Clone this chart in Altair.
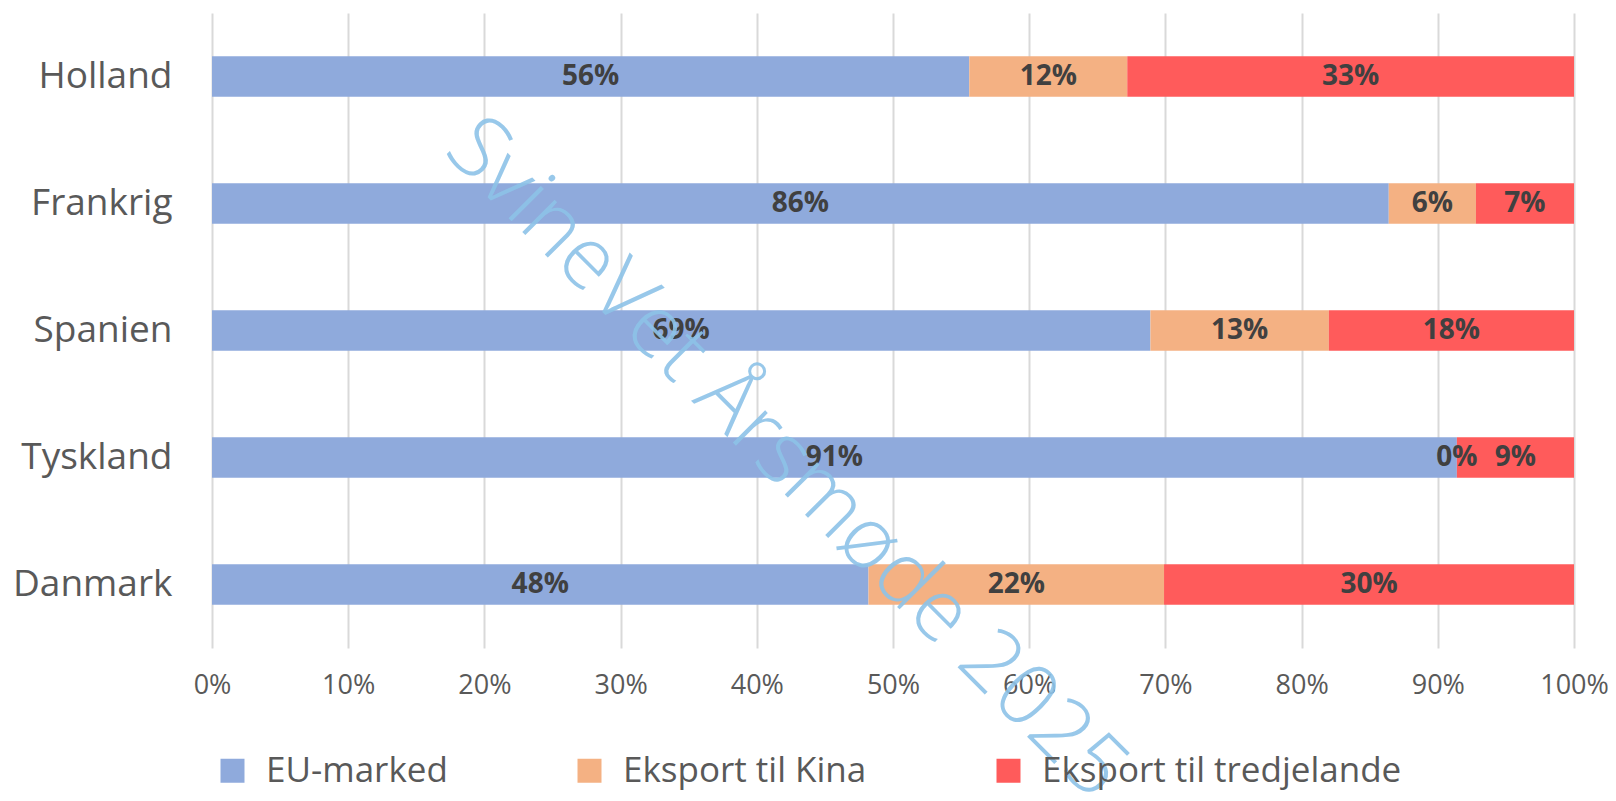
import altair as alt
import pandas as pd

countries = ["Holland", "Frankrig", "Spanien", "Tyskland", "Danmark"]
series = ["EU-marked", "Eksport til Kina", "Eksport til tredjelande"]
eu_marked = [55.6, 86.4, 68.9, 91.4, 48.2]
kina = [11.6, 6.4, 13.1, 0.0, 21.7]
tredjelande = [32.8, 7.2, 18.0, 8.6, 30.1]
x_ticks = [0, 10, 20, 30, 40, 50, 60, 70, 80, 90, 100]
colors = ["#8FAADC", "#F4B183", "#FF5B5B"]
watermark = ["SvineVet Årsmøde 2025"]

rows = []
for i, c in enumerate(countries):
    for j, (s, vals) in enumerate(zip(series, [eu_marked, kina, tredjelande])):
        rows.append({"land": c, "serie": s, "order": j, "value": vals[i]})
df = pd.DataFrame(rows)

FONT = "Open Sans"
GRAY = "#595959"

base = alt.Chart(df).transform_stack(
    stack="value", groupby=["land"], as_=["x0", "x1"],
    sort=[alt.SortField("order", order="ascending")]
).transform_calculate(
    mid="(datum.x0 + datum.x1) / 2",
    label="format(datum.value, '.0f') + '%'"
)

yenc = alt.Y(
    "land:N", sort=countries,
    scale=alt.Scale(paddingInner=0.68, paddingOuter=0.34),
    axis=alt.Axis(title=None, domain=False, ticks=False, grid=False,
                  labelFont=FONT, labelFontSize=37, labelColor=GRAY,
                  labelPadding=40),
)

bars = base.mark_bar().encode(
    x=alt.X("x0:Q", scale=alt.Scale(domain=[0, 100], nice=False),
            axis=alt.Axis(title=None, values=x_ticks,
                          labelExpr="datum.value + '%'",
                          grid=True, gridColor="#D9D9D9", gridWidth=2,
                          domain=False, ticks=False,
                          labelFont=FONT, labelFontSize=27, labelColor=GRAY,
                          labelPadding=24, labelOverlap=False, labelFlush=False)),
    x2="x1:Q",
    y=yenc,
    color=alt.Color(
        "serie:N", sort=series,
        scale=alt.Scale(domain=series, range=colors),
        legend=alt.Legend(title=None, orient="none", direction="horizontal",
                          legendX=3, legendY=740,
                          symbolType="square", symbolSize=576,
                          symbolStrokeWidth=0, symbolOpacity=1,
                          labelFont=FONT, labelFontSize=35, labelColor=GRAY,
                          labelOffset=16, labelLimit=800, columnPadding=124),
    ),
    order=alt.Order("order:Q"),
)

texts = base.mark_text(font=FONT, fontWeight="bold", fontSize=28,
                       color="#404040").encode(
    x=alt.X("mid:Q"),
    y=alt.Y("land:N", sort=countries),
    text="label:N",
)

wm = alt.Chart(pd.DataFrame({"t": watermark})).mark_text(
    angle=45, font=FONT, fontWeight=300, fontSize=86,
    color="#8DC3E8", opacity=0.9, align="center", baseline="middle"
).encode(x=alt.value(574), y=alt.value(446), text="t:N")

chart = alt.layer(bars, texts, wm).properties(
    width=1362, height=635,
    padding={"left": 204, "top": 5, "right": 34, "bottom": 145},
    autosize="none",
).configure_view(stroke=None)

chart.save("out.html", embed_options={"renderer": "svg", "actions": False})
